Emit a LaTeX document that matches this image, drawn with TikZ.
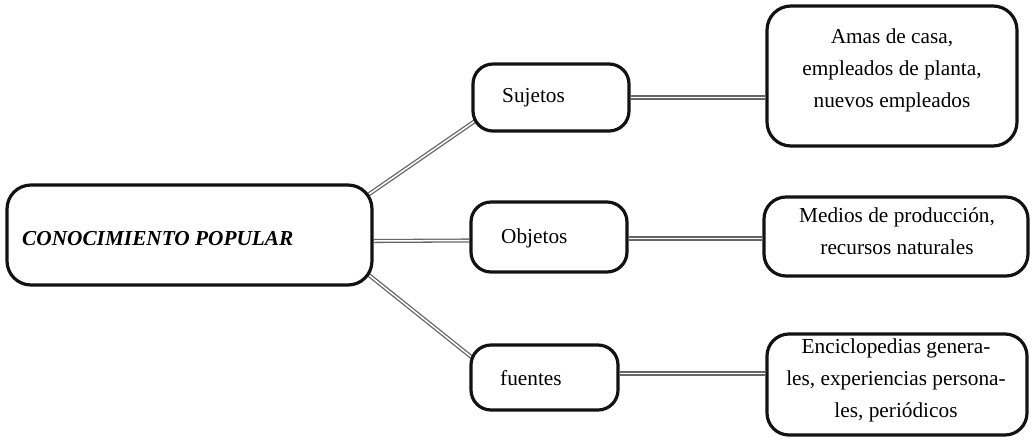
\documentclass[tikz,border=0pt]{standalone}
\usepackage{fontspec}
\setmainfont{Liberation Serif}
\usetikzlibrary{calc,backgrounds}
\tikzset{
  x=1pt, y=-1pt,
  box/.style={draw=black!93, line width=3.2pt, rounded corners=20pt, fill=white, inner sep=0pt},
  link/.style={draw=black!60, line width=1.3pt, double=white, double distance=1.5pt},
  txt/.style={inner sep=0pt, font=\fontsize{21.3}{32}\selectfont, align=center},
}
\begin{document}
\begin{tikzpicture}
\useasboundingbox (0,0) rectangle (1033,440);
% boxes
\node[box, rounded corners=24pt, minimum width=365pt, minimum height=100pt] (main) at (189.5,235) {};
\node[box, minimum width=156pt, minimum height=67pt] (suj) at (551,97.5) {};
\node[box, minimum width=156pt, minimum height=70pt] (obj) at (549,237) {};
\node[box, minimum width=147pt, minimum height=65pt] (fue) at (544.5,377.5) {};
\node[box, rounded corners=24pt, minimum width=250pt, minimum height=140pt] (r1) at (892,76) {};
\node[box, rounded corners=22pt, minimum width=264pt, minimum height=79pt] (r2) at (896,236.5) {};
\node[box, rounded corners=22pt, minimum width=260pt, minimum height=101pt] (r3) at (897,384.5) {};
% connectors
\begin{scope}[on background layer]
\draw[link] ($(main.north east)+(-10,14.5)$) -- ($(suj.south west)+(10,-16)$);
\draw[link] ([yshift=-6pt]main.east) -- ([yshift=-3.5pt]obj.west);
\draw[link] ($(main.south east)+(-14,-19)$) -- ($(fue.north west)+(10,20)$);
\draw[link] (suj.east) -- (suj.east -| r1.west);
\draw[link] ([yshift=-1.5pt]obj.east) -- ([yshift=-1.5pt]obj.east -| r2.west);
\draw[link] ([yshift=4pt]fue.east) -- ([yshift=4pt]fue.east -| r3.west);
\end{scope}
% texts
\node[txt, anchor=base west, font=\fontsize{21.3}{32}\selectfont\bfseries\itshape] (tmain) at (22,245) {CONOCIMIENTO POPULAR};
\node[txt, anchor=base west] (tsuj) at (502,102) {Sujetos};
\node[txt, anchor=base west] (tobj) at (501,243) {Objetos};
\node[txt, anchor=base west] (tfue) at (500,385) {fuentes};
\node[txt, anchor=north] (tr1) at (892,28.5) {Amas de casa,\\empleados de planta,\\nuevos empleados};
\node[txt, anchor=north] (tr2) at (897,207.5) {Medios de producción,\\recursos naturales};
\node[txt, anchor=north] (tr3) at (896,338.5) {Enciclopedias genera-\\les, experiencias persona-\\les, periódicos};
\end{tikzpicture}
\end{document}
